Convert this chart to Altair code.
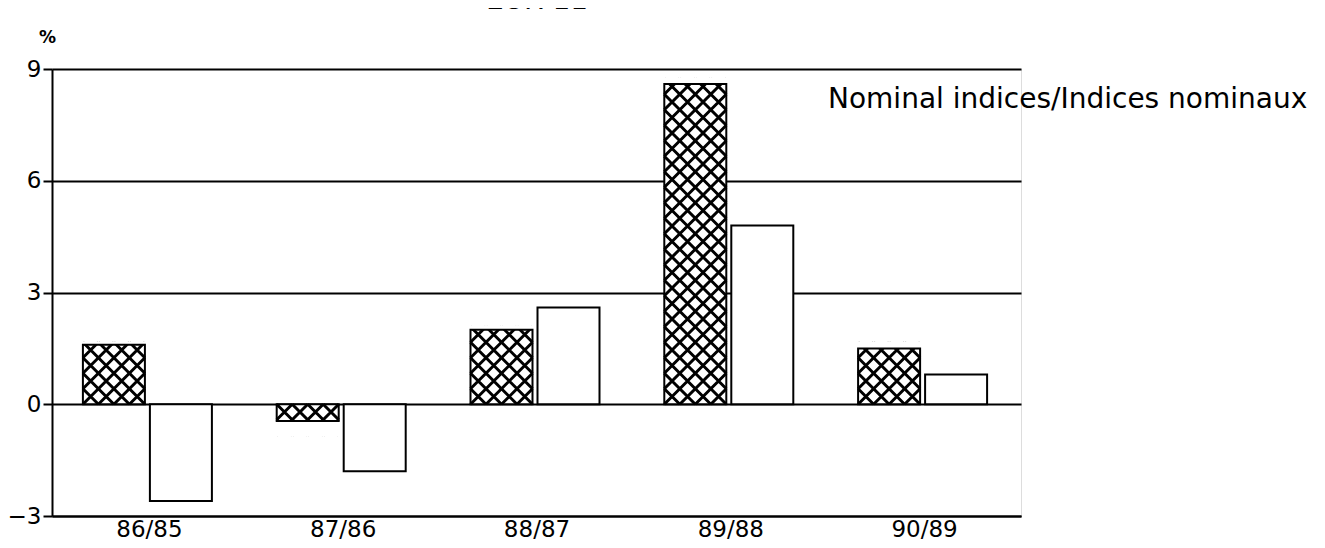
import math
import altair as alt
import pandas as pd

# ---- data ----
categories = ["86/85", "87/86", "88/87", "89/88", "90/89"]
hatched_values = [1.6, -0.45, 2.0, 8.6, 1.5]
white_values = [-2.6, -1.8, 2.6, 4.8, 0.8]
y_ticks = [-3, 0, 3, 6, 9]
note_text = "Nominal indices/Indices nominaux"
title_text = "EUR 11"

# ---- geometry helpers (pixels -> data units) ----
W, H = 969, 447
X_MAX = len(categories)
Y_MIN, Y_MAX = -3, 9
ux = X_MAX / W
uy = (Y_MAX - Y_MIN) / H
cell = 15.5  # hatch cell in px
ncols = 4

rows = []
for i, cat in enumerate(categories):
    c = i + 0.5
    rows.append(dict(cat=cat, series="hatched", value=hatched_values[i], base=0,
                     x0=c - 66 * ux, x1=c - 4 * ux))
    rows.append(dict(cat=cat, series="white", value=white_values[i], base=0,
                     x0=c + 1 * ux, x1=c + 63 * ux))
bars = pd.DataFrame(rows)

hatch_pts = []
masks = []
for r in rows:
    if r["series"] != "hatched":
        continue
    v = r["value"]
    s = 1 if v >= 0 else -1
    dy = cell * uy
    dx = cell * ux
    n = math.ceil(abs(v) / dy - 1e-9)
    for j in range(n):
        for k in range(ncols):
            hatch_pts.append(dict(x=r["x0"] + (k + 0.5) * dx, y=s * (j + 0.5) * dy))
    masks.append(dict(x0=r["x0"] - 2 * ux, x1=r["x1"] + 2 * ux,
                      y0=v, y1=s * (n * dy + 0.03)))
hatch_df = pd.DataFrame(hatch_pts)
mask_df = pd.DataFrame(masks)

label_expr = "[" + ",".join("'%s'" % c for c in categories) + "][floor(datum.value)]"
FONT = "DejaVu Sans"

x_scale = alt.Scale(domain=[0, X_MAX], nice=False, zero=False)
y_scale = alt.Scale(domain=[Y_MIN, Y_MAX], nice=False, zero=False)
x_axis = alt.Axis(values=[i + 0.5 for i in range(len(categories))], labelExpr=label_expr,
                  ticks=False, grid=False, domainColor="black", domainWidth=2,
                  labelFontSize=23, labelColor="black", labelFont=FONT, labelPadding=2,
                  title="")
y_axis = alt.Axis(values=y_ticks, grid=True, gridColor="black", gridWidth=2,
                  domainColor="black", domainWidth=2, tickColor="black", tickWidth=2,
                  tickSize=9, labelFontSize=23, labelColor="black", labelFont=FONT,
                  labelPadding=2, title="%", titleAngle=0, titleX=-5, titleY=-32,
                  titleFontSize=17, titleFontWeight="bold", titleAlign="center",
                  titleBaseline="middle", titleFont=FONT, titleColor="black")


def X(f):
    return alt.X(f, type="quantitative", scale=x_scale, axis=x_axis)


def Y(f):
    return alt.Y(f, type="quantitative", scale=y_scale, axis=y_axis)


base_fill = alt.Chart(bars).mark_rect(color="white", strokeWidth=0).encode(
    x=X("x0"), x2="x1", y=Y("value"), y2="base")

hatch = alt.Chart(hatch_df).mark_point(
    shape="M-1,-1L1,1M-1,1L1,-1", size=cell * cell, filled=False,
    color="black", strokeWidth=3, opacity=1).encode(x=X("x"), y=Y("y"))

mask = alt.Chart(mask_df).mark_rect(color="white", strokeWidth=0).encode(
    x=X("x0"), x2="x1", y=Y("y0"), y2="y1")

outline = alt.Chart(bars).mark_rect(fillOpacity=0, stroke="black", strokeWidth=2).encode(
    x=X("x0"), x2="x1", y=Y("value"), y2="base")

note = alt.Chart(pd.DataFrame({"t": [note_text]})).mark_text(
    align="left", baseline="middle", fontSize=28, font=FONT, color="black").encode(
    text="t:N", x=alt.value(776), y=alt.value(31))

title = alt.Chart(pd.DataFrame({"t": [title_text]})).mark_text(
    align="center", baseline="alphabetic", fontSize=28, font=FONT, color="black").encode(
    text="t:N", x=alt.value(485), y=alt.value(-60))

chart = alt.layer(base_fill, hatch, mask, outline, note, title).properties(
    width=W, height=H,
    autosize=alt.AutoSizeParams(type="none"),
    padding={"left": 44, "top": 61, "right": 296, "bottom": 24},
).configure_view(strokeWidth=0).configure(background="white")

chart.save("out.html", embed_options={"renderer": "svg", "actions": False})
